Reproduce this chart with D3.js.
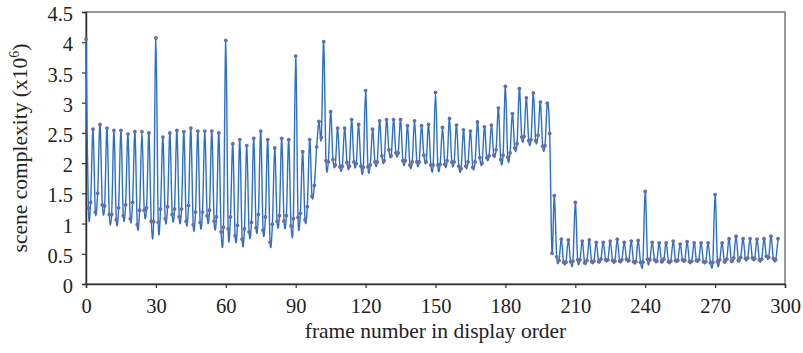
<!DOCTYPE html>
<html>
<head>
<meta charset="utf-8">
<script src="https://cdn.jsdelivr.net/npm/d3@7"></script>
<style>
  html, body { margin: 0; padding: 0; background: #fff; }
  svg { display: block; }
  text { font-family: "Liberation Serif", "Times New Roman", serif; fill: #222; }
</style>
</head>
<body>
<svg id="chart" width="803" height="353"></svg>
<script>
// scene complexity (x10^6) per frame, frame index = position
const complexity = [
  4.05,1.26,1.35,2.56,1.19,1.50,2.64,1.31,1.29,2.58,
  1.15,1.15,2.54,1.06,1.26,2.54,1.13,1.31,2.48,1.08,
  1.35,2.52,0.98,1.22,2.52,1.22,1.26,2.50,1.04,1.03,
  4.07,1.02,1.24,2.43,1.08,1.28,2.50,1.15,1.24,2.54,
  1.11,1.24,2.52,1.04,1.30,2.58,0.98,1.19,2.53,1.02,
  1.19,2.53,1.13,1.22,2.53,1.04,1.11,2.50,0.86,0.94,
  4.03,0.91,1.11,2.32,0.80,0.97,2.39,0.74,0.91,2.29,
  0.86,1.02,2.41,0.93,1.15,2.53,0.89,1.11,2.39,0.69,
  0.99,2.25,1.04,1.13,2.41,1.04,1.13,2.39,0.96,1.08,
  3.77,1.10,1.17,2.19,1.06,1.28,2.39,1.45,1.63,2.27,
  2.69,2.42,4.01,2.04,2.02,2.85,2.06,1.97,2.58,1.94,
  1.95,2.58,2.01,1.95,2.72,2.02,1.99,2.64,1.95,1.93,
  3.20,1.94,1.97,2.56,2.02,2.02,2.70,2.12,2.04,2.72,
  2.22,2.12,2.72,2.17,2.17,2.72,2.04,2.04,2.62,1.97,
  2.02,2.70,2.02,2.02,2.62,2.13,2.02,2.64,1.97,1.97,
  3.17,1.97,1.98,2.59,1.98,2.04,2.74,2.02,2.02,2.63,
  1.95,1.91,2.55,1.95,2.02,2.53,1.93,2.02,2.68,2.09,
  2.00,2.60,2.09,2.12,2.63,2.13,2.22,2.91,2.06,2.13,
  3.27,2.10,2.17,2.82,2.25,2.32,3.23,2.43,2.44,3.08,
  2.37,2.39,3.16,2.37,2.46,3.01,2.28,2.29,2.99,2.49,
  0.51,1.46,0.45,0.39,0.74,0.36,0.36,0.73,0.37,0.38,
  1.35,0.40,0.40,0.71,0.35,0.39,0.73,0.37,0.38,0.69,
  0.37,0.41,0.69,0.40,0.40,0.71,0.39,0.38,0.74,0.38,
  0.40,0.69,0.41,0.39,0.71,0.37,0.37,0.72,0.36,0.36,
  1.53,0.41,0.40,0.69,0.40,0.38,0.68,0.37,0.41,0.68,
  0.37,0.38,0.71,0.39,0.39,0.66,0.40,0.39,0.70,0.37,
  0.38,0.68,0.39,0.40,0.68,0.37,0.37,0.68,0.35,0.36,
  1.48,0.37,0.40,0.68,0.37,0.41,0.75,0.38,0.43,0.79,
  0.39,0.44,0.75,0.42,0.43,0.75,0.43,0.42,0.74,0.40,
  0.41,0.75,0.46,0.44,0.79,0.42,0.40,0.75
];
const xTicks = [0, 30, 60, 90, 120, 150, 180, 210, 240, 270, 300];
const yTicks = [0, 0.5, 1, 1.5, 2, 2.5, 3, 3.5, 4, 4.5];
const xTitle = "frame number in display order";
const yTitle = "scene complexity (x10";
const yTitleSup = "6";

const svg = d3.select("#chart");
const mLeft = 86, mRight = 785, mTop = 12, mBottom = 284;

const x = d3.scaleLinear().domain([0, 300]).range([mLeft, mRight]);
const y = d3.scaleLinear().domain([0, 4.5]).range([mBottom, mTop]);

const axisColor = "#333";

// frame (top and right borders)
svg.append("rect")
  .attr("x", mLeft).attr("y", mTop)
  .attr("width", mRight - mLeft).attr("height", mBottom - mTop)
  .attr("fill", "none").attr("stroke", "#555").attr("stroke-width", 1.2);

// x axis
const gx = svg.append("g")
  .attr("transform", `translate(0,${mBottom})`)
  .call(d3.axisBottom(x).tickValues(xTicks).tickSize(4).tickPadding(10).tickFormat(d3.format("d")));
gx.select(".domain").attr("stroke", axisColor).attr("stroke-width", 1.5);
gx.selectAll(".tick line").attr("stroke", axisColor).attr("stroke-width", 1.2);
gx.selectAll(".tick text").attr("font-size", 20.5).attr("font-family", "Liberation Serif").attr("fill", "#222");

// y axis
const gy = svg.append("g")
  .attr("transform", `translate(${mLeft},0)`)
  .call(d3.axisLeft(y).tickValues(yTicks).tickSize(4).tickPadding(9).tickFormat(d => String(d)));
gy.select(".domain").attr("stroke", axisColor).attr("stroke-width", 1.5);
gy.selectAll(".tick line").attr("stroke", axisColor).attr("stroke-width", 1.2);
gy.selectAll(".tick text").attr("font-size", 20.5).attr("font-family", "Liberation Serif").attr("fill", "#222").attr("dy", "0.42em");

// line (smoothed, like a spreadsheet "smoothed line")
const line = d3.line()
  .x((d, i) => x(i))
  .y(d => y(d))
  .curve(d3.curveCatmullRom.alpha(0));

svg.append("path")
  .datum(complexity)
  .attr("d", line)
  .attr("fill", "none")
  .attr("stroke", "#2d6fc6")
  .attr("stroke-width", 1.4);

svg.append("g").selectAll("circle")
  .data(complexity)
  .join("circle")
  .attr("cx", (d, i) => x(i))
  .attr("cy", d => y(d))
  .attr("r", 1.9)
  .attr("fill", "#6a6e9e");

// titles
svg.append("text")
  .attr("x", (mLeft + mRight) / 2)
  .attr("y", 338)
  .attr("text-anchor", "middle")
  .attr("font-size", 21.5)
  .text(xTitle);

const yt = svg.append("text")
  .attr("transform", `translate(27,${(mTop + mBottom) / 2}) rotate(-90)`)
  .attr("text-anchor", "middle")
  .attr("font-size", 21.5);
yt.append("tspan").text(yTitle);
yt.append("tspan").attr("font-size", 14).attr("dy", -8).text(yTitleSup);
yt.append("tspan").attr("dy", 8).text(")");
</script>
</body>
</html>
